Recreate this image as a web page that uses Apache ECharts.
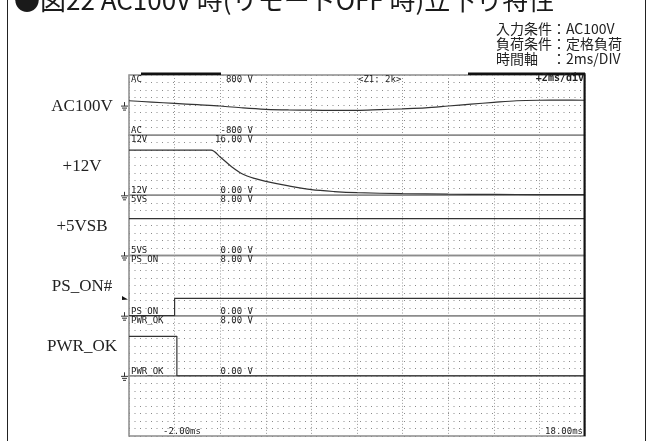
<!DOCTYPE html>
<html><head><meta charset="utf-8">
<script src="https://cdn.jsdelivr.net/npm/echarts@6/dist/echarts.min.js"></script>
<style>html,body{margin:0;padding:0;background:#fff}#c{width:652px;height:441px}</style>
</head><body><div id="c"></div>
<script>
// ---- data ----
const acTime   = [-2,-1,0,1,2,3,4,5,6,7,8,9,10,11,12,13,14,15,16,17,18];
const acVolts  = [115,80,45,10,-25,-75,-112,-130,-136,-140,-140,-120,-100,-75,-25,25,72,115,128,130,128];
const v12Time  = [-2,1.6,2.0,2.5,3.0,3.5,4.0,5.0,6.0,7.0,8.0,10,12,14,16,18];
const v12Volts = [12,12,10.2,7.6,5.6,4.5,3.7,2.5,1.5,1.0,0.7,0.45,0.3,0.25,0.2,0.2];
const vsbTime  = [-2,18];
const vsbVolts = [4.9,4.9];
const psonTime = [-2,0,0,18];
const psonVolts= [0,0,2.3,2.3];
const pwrTime  = [-2,0.1,0.1,18];
const pwrVolts = [5.25,5.25,0,0];

const channelLabels = ['AC100V','+12V','+5VSB','PS_ON#','PWR_OK'];
const scopeNames    = ['AC','12V','5VS','PS_ON','PWR_OK'];
const scaleTop      = ['800 V','16.00 V','8.00 V','8.00 V','8.00 V'];
const scaleBottom   = ['-800 V','0.00 V','0.00 V','0.00 V','0.00 V'];
const yMin = [-800,0,0,0,0,0];
const yMax = [800,16,8,8,8,8];
const yInt = [200,2,1,1,1,1];
const tMin = -2, tMax = 18, tInt = 2;
const timeLabels = ['-2.00ms','18.00ms'];

// ---- layout ----
const L = 129, T = 75, W = 456, PH = 60.17, NP = 6;
const mono = '9px "DejaVu Sans Mono", monospace';
const grids = [], xAxes = [], yAxes = [];
for (let i = 0; i < NP; i++) {
  grids.push({left: L, top: T + i*PH, width: W, height: PH, show: true,
    borderColor: '#8c8c8c', borderWidth: 1.5, backgroundColor: 'transparent'});
  xAxes.push({type:'value', gridIndex:i, min:tMin, max:tMax, interval:tInt,
    axisLine:{show:false}, axisTick:{show:false}, axisLabel:{show:false},
    splitLine:{show:true, lineStyle:{color:'#9a9a9a', width:1, type:[1,2]}}});
  yAxes.push({type:'value', gridIndex:i, min:yMin[i], max:yMax[i], interval:yInt[i],
    axisLine:{show:false}, axisTick:{show:false}, axisLabel:{show:false},
    splitLine:{show:true, lineStyle:{color:'#8a8a8a', width:1, type:[1,4.5]}}});
}
function pairs(t, v){ return t.map((x,k)=>[x, v[k]]); }
const seriesData = [pairs(acTime,acVolts), pairs(v12Time,v12Volts), pairs(vsbTime,vsbVolts),
                    pairs(psonTime,psonVolts), pairs(pwrTime,pwrVolts)];
const series = seriesData.map((d,i)=>({type:'line', xAxisIndex:i, yAxisIndex:i, data:d,
  showSymbol:false, smooth: i<2 ? 0.3 : false, z:5,
  lineStyle:{color:'#333', width:1.2}}));

// ---- graphics ----
const g = [];
function txt(text, x, y, font, align, va, fill){
  g.push({type:'text', x:x, y:y, z:10, style:{text:text, font:font, fill:fill||'#222', align:align||'left', verticalAlign:va||'middle'}});
}
function ln(x1,y1,x2,y2,stroke,w){
  g.push({type:'line', z:10, shape:{x1:x1,y1:y1,x2:x2,y2:y2}, style:{stroke:stroke, lineWidth:w}});
}
// outer frame
ln(7.5,0,7.5,441,'#222',1);
ln(645.5,0,645.5,441,'#222',1);
// title (CJK + narrow latin)
g.push({type:'text', x:14, y:0, z:10, style:{
  text:'{j|●図}{a|22 AC100V }{j|時}{a|(}{j|リモート}{a|OFF }{j|時}{a|)}{j|立下り特性}',
  fill:'#1a1a1a', align:'left', verticalAlign:'middle',
  rich:{ j:{font:'26px "Noto Sans CJK JP"', fill:'#1a1a1a'},
         a:{font:'26px "Liberation Sans Narrow", "Noto Sans CJK JP"', fill:'#1a1a1a'} }}});
// conditions
txt('入力条件：AC100V', 496, 29, '14px "Noto Sans CJK JP"');
txt('負荷条件：定格負荷', 496, 44, '14px "Noto Sans CJK JP"');
txt('時間軸　：2ms/DIV', 496, 59, '14px "Noto Sans CJK JP"');
// top bars and right border
g.push({type:'rect', z:10, shape:{x:141, y:72.5, width:80, height:2.5}, style:{fill:'#111'}});
g.push({type:'rect', z:10, shape:{x:468, y:72.5, width:117, height:2.5}, style:{fill:'#111'}});
ln(584.5, 73, 584.5, T + NP*PH, '#111', 2);
// scope texts
txt('<Z1: 2k>', 358, 79.5, mono);
txt('+2ms/div', 584, 78.5, 'bold 10px "DejaVu Sans Mono", monospace', 'right');
for (let i = 0; i < 5; i++) {
  const top = T + i*PH, bot = T + (i+1)*PH;
  txt(scopeNames[i], 131, top + 4.5, mono);
  txt(scaleTop[i], 253, top + 4.5, mono, 'right');
  txt(scopeNames[i], 131, bot - 4.5, mono);
  txt(scaleBottom[i], 253, bot - 4.5, mono, 'right');
  // channel label
  txt(channelLabels[i], 82, top + PH/2 + 1, '17px "Liberation Serif", serif', 'center');
  // ground symbol
  const gy = i === 0 ? top + PH/2 + 1 : bot + 0.5;
  ln(124.5, gy-4, 124.5, gy, '#333', 1);
  ln(121, gy, 128, gy, '#333', 1);
  ln(122, gy+2, 127, gy+2, '#333', 1);
  ln(123, gy+4, 126, gy+4, '#333', 1);
}
// trigger marker
g.push({type:'polygon', z:10, shape:{points:[[122,296],[128,299.5],[122,300]]}, style:{fill:'#111'}});
txt(timeLabels[0], 163, 432, mono);
txt(timeLabels[1], 583, 432, mono, 'right');

const chart = echarts.init(document.getElementById('c'), null, {renderer:'canvas'});
chart.setOption({animation:false, backgroundColor:'#fff', grid:grids, xAxis:xAxes, yAxis:yAxes, series:series, graphic:g});
</script></body></html>
